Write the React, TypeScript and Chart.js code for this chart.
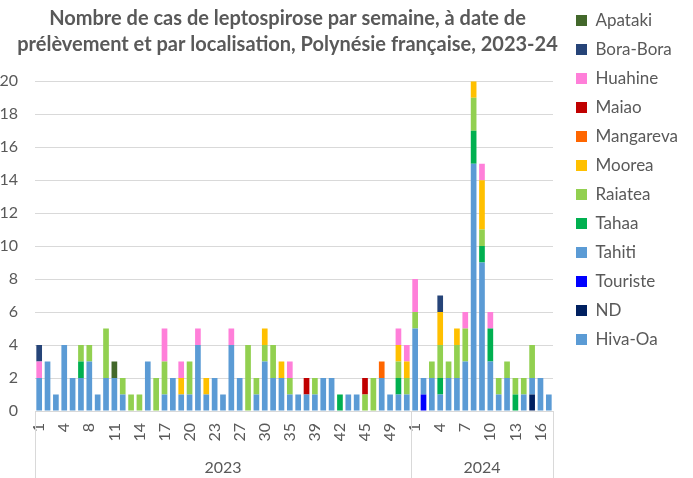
import { useEffect, useRef } from 'react';
import { Chart, registerables } from 'chart.js';

Chart.register(...registerables);

// ---- Categories (weeks with at least one case) ----
const weeks2023 = [
  '1', '2', '3', '4', '5', '7', '8', '9', '10', '11', '12', '13', '14', '15', '16',
  '17', '18', '19', '20', '21', '22', '23', '24', '26', '27', '28', '29', '30', '31', '34',
  '35', '36', '38', '39', '40', '41', '42', '43', '44', '45', '46', '48', '49', '50', '51',
];
const weeks2024 = ['1', '2', '3', '4', '5', '6', '7', '8', '9', '10', '11', '12', '13', '14', '15', '16', '17'];
const years = ['2023', '2024'];
const categories = [...weeks2023, ...weeks2024];

// ---- Series values (2023 weeks then 2024 weeks) ----
const hivaOa = [
  0, 0, 0, 0, 0, 0, 0, 0, 0, 0, 0, 0, 0, 0, 0, 0, 0, 0, 0, 0, 0, 0, 0, 0, 0, 0, 0, 0, 0, 0, 0, 0, 0, 0, 0, 0, 0, 0, 0, 0, 0, 0, 0, 0, 0,
  0, 0, 0, 0, 0, 0, 0, 0, 0, 0, 0, 0, 0, 0, 0, 0, 0,
];
const nd = [
  0, 0, 0, 0, 0, 0, 0, 0, 0, 0, 0, 0, 0, 0, 0, 0, 0, 0, 0, 0, 0, 0, 0, 0, 0, 0, 0, 0, 0, 0, 0, 0, 0, 0, 0, 0, 0, 0, 0, 0, 0, 0, 0, 0, 0,
  0, 0, 0, 0, 0, 0, 0, 0, 0, 0, 0, 0, 0, 0, 1, 0, 0,
];
const touriste = [
  0, 0, 0, 0, 0, 0, 0, 0, 0, 0, 0, 0, 0, 0, 0, 0, 0, 0, 0, 0, 0, 0, 0, 0, 0, 0, 0, 0, 0, 0, 0, 0, 0, 0, 0, 0, 0, 0, 0, 0, 0, 0, 0, 0, 0,
  0, 1, 0, 0, 0, 0, 0, 0, 0, 0, 0, 0, 0, 0, 0, 0, 0,
];
const tahiti = [
  2, 3, 1, 4, 2, 2, 3, 1, 2, 2, 1, 0, 0, 3, 0, 1, 2, 1, 1, 4, 1, 2, 1, 4, 2, 0, 1, 3, 2, 2, 1, 1, 1, 1, 2, 2, 0, 1, 1, 0, 0, 2, 1, 1, 1,
  5, 1, 2, 1, 2, 2, 3, 15, 9, 3, 1, 2, 0, 1, 1, 2, 1,
];
const tahaa = [
  0, 0, 0, 0, 0, 1, 0, 0, 0, 0, 0, 0, 0, 0, 0, 0, 0, 0, 0, 0, 0, 0, 0, 0, 0, 0, 0, 0, 0, 0, 0, 0, 0, 0, 0, 0, 1, 0, 0, 0, 0, 0, 0, 1, 0,
  0, 0, 0, 1, 0, 0, 0, 2, 1, 2, 0, 0, 1, 0, 0, 0, 0,
];
const raiatea = [
  0, 0, 0, 0, 0, 1, 1, 0, 3, 0, 1, 1, 1, 0, 2, 2, 0, 0, 2, 0, 0, 0, 0, 0, 0, 4, 1, 1, 2, 0, 1, 0, 0, 1, 0, 0, 0, 0, 0, 1, 2, 0, 0, 1, 1,
  1, 0, 1, 2, 1, 2, 2, 2, 1, 0, 1, 1, 1, 1, 2, 0, 0,
];
const moorea = [
  0, 0, 0, 0, 0, 0, 0, 0, 0, 0, 0, 0, 0, 0, 0, 0, 0, 1, 0, 0, 1, 0, 0, 0, 0, 0, 0, 1, 0, 1, 0, 0, 0, 0, 0, 0, 0, 0, 0, 0, 0, 0, 0, 1, 1,
  0, 0, 0, 2, 0, 1, 0, 1, 3, 0, 0, 0, 0, 0, 0, 0, 0,
];
const mangareva = [
  0, 0, 0, 0, 0, 0, 0, 0, 0, 0, 0, 0, 0, 0, 0, 0, 0, 0, 0, 0, 0, 0, 0, 0, 0, 0, 0, 0, 0, 0, 0, 0, 0, 0, 0, 0, 0, 0, 0, 0, 0, 1, 0, 0, 0,
  0, 0, 0, 0, 0, 0, 0, 0, 0, 0, 0, 0, 0, 0, 0, 0, 0,
];
const maiao = [
  0, 0, 0, 0, 0, 0, 0, 0, 0, 0, 0, 0, 0, 0, 0, 0, 0, 0, 0, 0, 0, 0, 0, 0, 0, 0, 0, 0, 0, 0, 0, 0, 1, 0, 0, 0, 0, 0, 0, 1, 0, 0, 0, 0, 0,
  0, 0, 0, 0, 0, 0, 0, 0, 0, 0, 0, 0, 0, 0, 0, 0, 0,
];
const huahine = [
  1, 0, 0, 0, 0, 0, 0, 0, 0, 0, 0, 0, 0, 0, 0, 2, 0, 1, 0, 1, 0, 0, 0, 1, 0, 0, 0, 0, 0, 0, 1, 0, 0, 0, 0, 0, 0, 0, 0, 0, 0, 0, 0, 1, 1,
  2, 0, 0, 0, 0, 0, 1, 0, 1, 1, 0, 0, 0, 0, 0, 0, 0,
];
const boraBora = [
  1, 0, 0, 0, 0, 0, 0, 0, 0, 0, 0, 0, 0, 0, 0, 0, 0, 0, 0, 0, 0, 0, 0, 0, 0, 0, 0, 0, 0, 0, 0, 0, 0, 0, 0, 0, 0, 0, 0, 0, 0, 0, 0, 0, 0,
  0, 0, 0, 1, 0, 0, 0, 0, 0, 0, 0, 0, 0, 0, 0, 0, 0,
];
const apataki = [
  0, 0, 0, 0, 0, 0, 0, 0, 0, 1, 0, 0, 0, 0, 0, 0, 0, 0, 0, 0, 0, 0, 0, 0, 0, 0, 0, 0, 0, 0, 0, 0, 0, 0, 0, 0, 0, 0, 0, 0, 0, 0, 0, 0, 0,
  0, 0, 0, 0, 0, 0, 0, 0, 0, 0, 0, 0, 0, 0, 0, 0, 0,
];

const yTickValues = [0, 2, 4, 6, 8, 10, 12, 14, 16, 18, 20];

const TEXT = '#595959';
const GRID = '#D9D9D9';
const FONT = 'Lato, "Noto Sans", sans-serif';

const series = [
  { label: 'Hiva-Oa', data: hivaOa, color: '#5B9BD5' },
  { label: 'ND', data: nd, color: '#002060' },
  { label: 'Touriste', data: touriste, color: '#0000FF' },
  { label: 'Tahiti', data: tahiti, color: '#5B9BD5' },
  { label: 'Tahaa', data: tahaa, color: '#00B050' },
  { label: 'Raiatea', data: raiatea, color: '#92D050' },
  { label: 'Moorea', data: moorea, color: '#FFC000' },
  { label: 'Mangareva', data: mangareva, color: '#FF6600' },
  { label: 'Maiao', data: maiao, color: '#C00000' },
  { label: 'Huahine', data: huahine, color: '#FF7FD9' },
  { label: 'Bora-Bora', data: boraBora, color: '#264478' },
  { label: 'Apataki', data: apataki, color: '#43682B' },
];

// Title is centred over the whole area to the left of the legend (as in the source chart)
const titleSpanPlugin = {
  id: 'titleSpan',
  afterLayout(chart: any) {
    const t = chart.titleBlock;
    const lg = chart.legend;
    if (!t || !lg) return;
    t.left = 0;
    t.right = lg.left + lg.options.labels.padding - 1;
    t.width = t.right - t.left;
  },
};

const yearAxisPlugin = {
  id: 'yearAxis',
  afterDraw(chart: any) {
    const xs = chart.scales.x;
    const { ctx, chartArea } = chart;
    const half = (xs.getPixelForValue(1) - xs.getPixelForValue(0)) / 2;
    const groups = [weeks2023.length, weeks2024.length];
    const bounds: number[] = [xs.getPixelForValue(0) - half];
    let idx = 0;
    groups.forEach((n) => {
      idx += n;
      bounds.push(xs.getPixelForValue(idx - 1) + half);
    });
    ctx.save();
    ctx.strokeStyle = GRID;
    ctx.lineWidth = 1;
    bounds.forEach((b) => {
      const px = Math.round(b) + 0.5;
      ctx.beginPath();
      ctx.moveTo(px, chartArea.bottom);
      ctx.lineTo(px, chart.height);
      ctx.stroke();
    });
    ctx.fillStyle = TEXT;
    ctx.font = `16px ${FONT}`;
    ctx.textAlign = 'center';
    ctx.textBaseline = 'middle';
    years.forEach((y, i) => {
      ctx.fillText(y, (bounds[i] + bounds[i + 1]) / 2, xs.bottom + 27);
    });
    ctx.restore();
  },
};

export default function App() {
  const ref = useRef<HTMLCanvasElement>(null);

  useEffect(() => {
    if (!ref.current) return;
    const chart = new Chart(ref.current, {
      type: 'bar',
      data: {
        labels: categories,
        datasets: series.map((s) => ({
          label: s.label,
          data: s.data,
          backgroundColor: s.color,
          borderWidth: 0,
          barPercentage: 1,
          categoryPercentage: 0.68,
        })),
      },
      options: {
        animation: false,
        responsive: false,
        devicePixelRatio: 1,
        layout: { padding: { top: 0, left: 0, right: 12, bottom: 37 } },
        plugins: {
          title: {
            display: true,
            fullSize: false,
            text: [
              'Nombre de cas de leptospirose par semaine, à date de',
              'prélèvement et par localisation, Polynésie française, 2023-24',
            ],
            color: TEXT,
            font: { family: FONT, size: 20, weight: 'bold', lineHeight: 1.33 },
            padding: { top: 5, bottom: 23 },
          },
          legend: {
            position: 'right',
            align: 'start',
            reverse: true,
            maxWidth: 117,
            labels: {
              boxWidth: 11,
              boxHeight: 11,
              padding: 12,
              color: TEXT,
              font: { family: FONT, size: 17 },
            },
          },
          tooltip: { enabled: false },
        },
        scales: {
          x: {
            stacked: true,
            grid: { display: false, drawTicks: false },
            border: { display: false },
            ticks: {
              autoSkip: false,
              maxRotation: 90,
              minRotation: 90,
              padding: 12,
              color: TEXT,
              font: { family: FONT, size: 16 },
              callback: (_v: any, i: number) => (i % 3 === 0 ? categories[i] : ''),
            },
            afterFit: (s: any) => {
              s.height = 30;
            },
          },
          y: {
            stacked: true,
            min: 0,
            max: 20,
            afterBuildTicks: (s: any) => {
              s.ticks = yTickValues.map((v) => ({ value: v }));
            },
            grid: { color: GRID, lineWidth: 1, drawTicks: false },
            border: { display: false },
            ticks: {
              padding: 17,
              color: TEXT,
              font: { family: FONT, size: 16 },
            },
            afterFit: (s: any) => {
              s.width = 35;
            },
          },
          gap: {
            type: 'linear',
            position: 'right',
            display: true,
            grid: { display: false, drawTicks: false },
            border: { display: false },
            ticks: { display: false },
            afterFit: (s: any) => {
              s.width = 11;
            },
          },
        },
      },
      plugins: [titleSpanPlugin, yearAxisPlugin],
    } as any);
    return () => chart.destroy();
  }, []);

  return (
    <div style={{ position: 'absolute', left: 0, top: 0, width: 693, height: 478, background: '#fff' }}>
      <canvas ref={ref} width={693} height={478} />
    </div>
  );
}
